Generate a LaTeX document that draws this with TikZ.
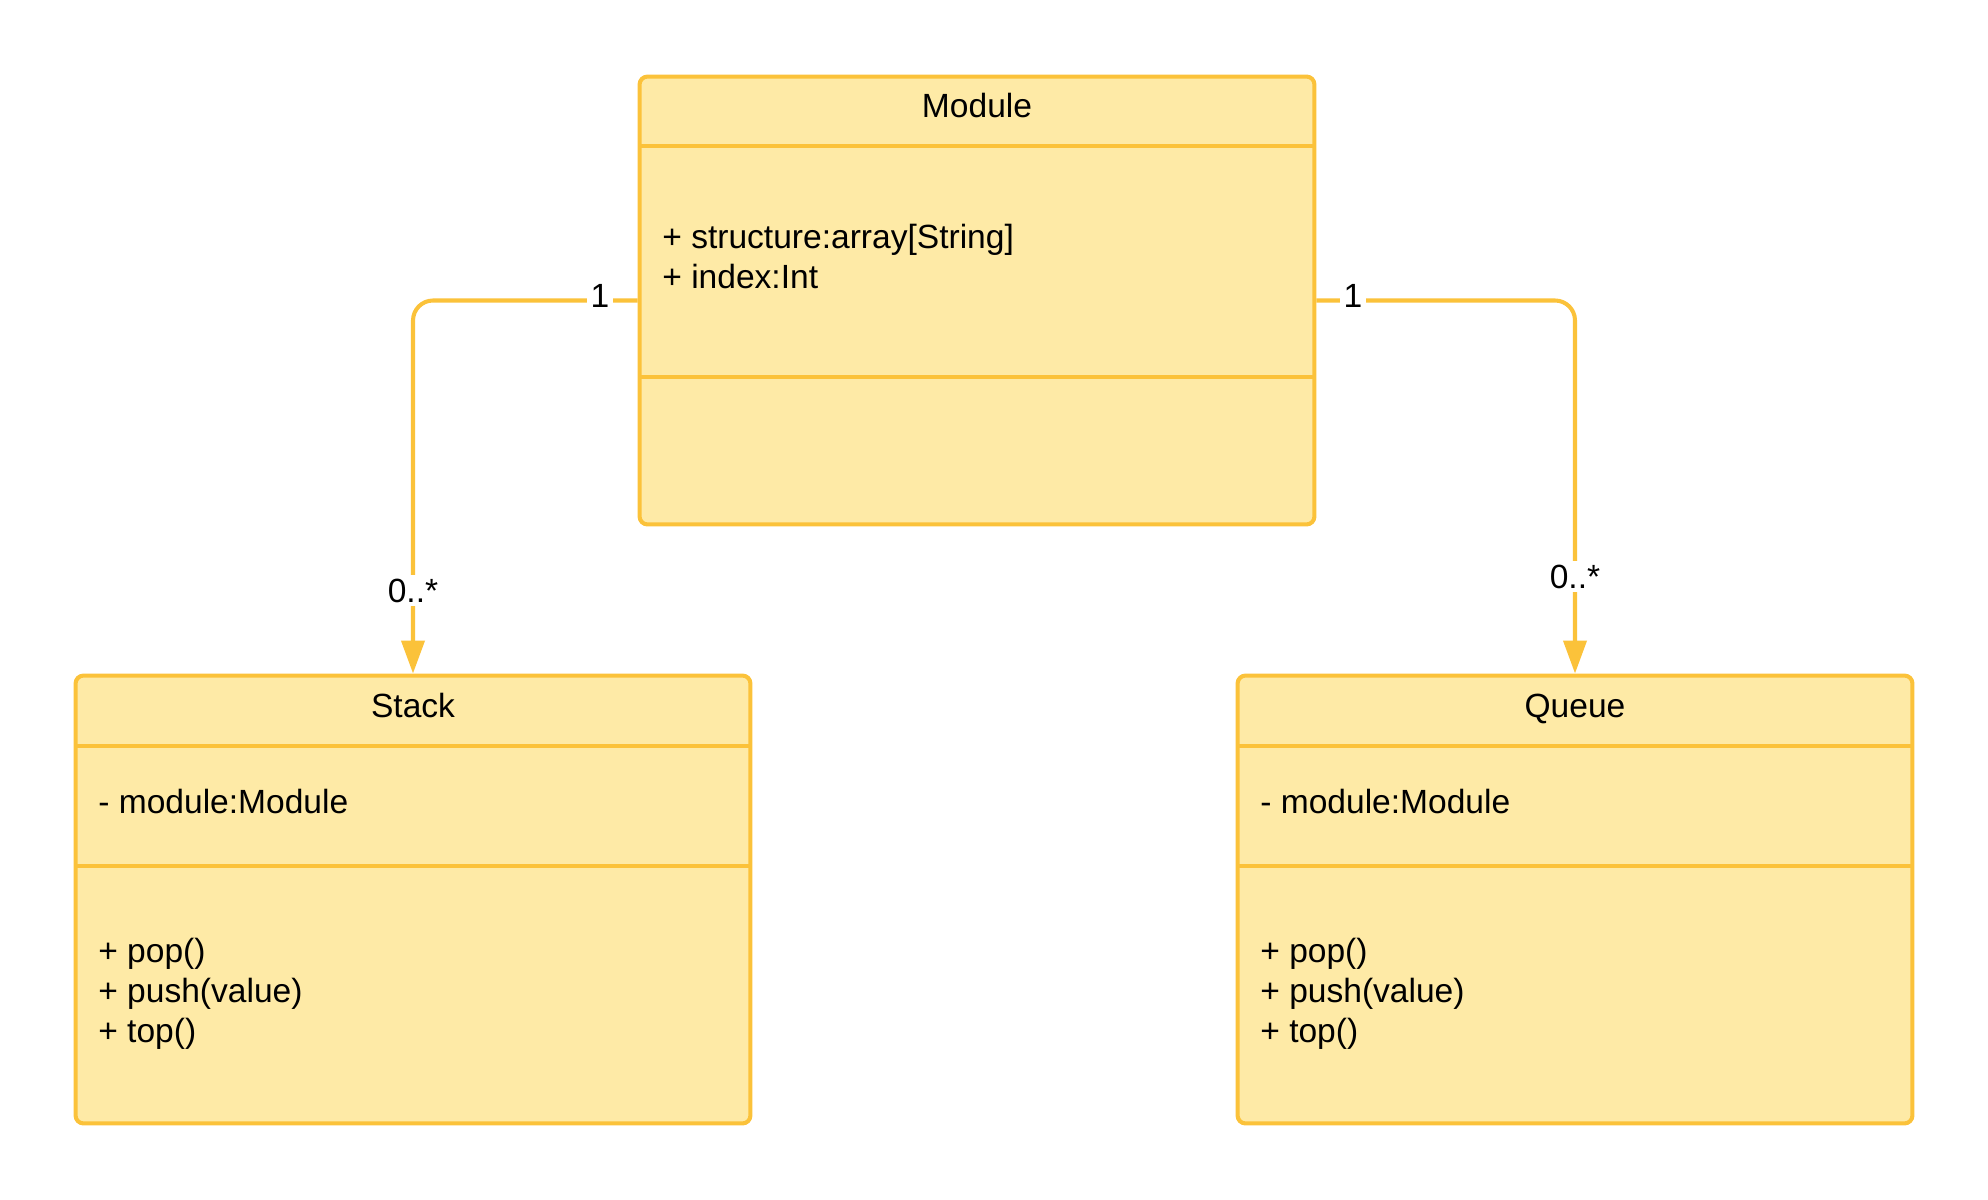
\documentclass[tikz,border=0pt]{standalone}
\usepackage{fontspec}
\setmainfont{Liberation Sans}
\usetikzlibrary{arrows.meta}
\definecolor{umlline}{RGB}{251,194,58}
\definecolor{umlfill}{RGB}{254,234,166}

\begin{document}
\begin{tikzpicture}[x=0.02cm, y=-0.02cm,
every node/.style={font=\fontsize{19.1}{22.76}\selectfont},
umlclass/.style={rectangle, rounded corners=0.16cm, draw=umlline, fill=umlfill, line width=2.3pt, minimum width=13.5cm, minimum height=8.96cm, inner sep=0pt},
divider/.style={draw=umlline, line width=2.3pt},
assoc/.style={draw=umlline, line width=2.3pt, rounded corners=0.4cm, -{Triangle[length=0.66cm, width=0.46cm]}},
mult/.style={fill=white, inner sep=2pt, anchor=base}]
\tikzstyle{member}=[anchor=base west, inner sep=0pt]
\tikzstyle{title}=[anchor=base, inner sep=0pt]
\useasboundingbox (0,0) rectangle (1988,1200);

%Module
\node[umlclass] (module) at (977,300.5) {};
\draw[divider] (640,146) -- (1314,146);
\draw[divider] (640,377) -- (1314,377);
\node[title] (moduletitle) at (977,117) {Module};
\node[member] (modulestruct) at (662,248) {+ structure:array[String]};
\node[member] (moduleindex) at (662,288) {+ index:Int};

%Stack
\node[umlclass] (stack) at (413,899.5) {};
\draw[divider] (76,746) -- (750,746);
\draw[divider] (76,866) -- (750,866);
\node[title] (stacktitle) at (413,717) {Stack};
\node[member] (stackmodule) at (98,813) {- module:Module};
\node[member] (stackpop) at (98,962) {+ pop()};
\node[member] (stackpush) at (98,1002) {+ push(value)};
\node[member] (stacktop) at (98,1042) {+ top()};

%Queue
\node[umlclass] (queue) at (1575,899.5) {};
\draw[divider] (1238,746) -- (1912,746);
\draw[divider] (1238,866) -- (1912,866);
\node[title] (queuetitle) at (1575,717) {Queue};
\node[member] (queuemodule) at (1260,813) {- module:Module};
\node[member] (queuepop) at (1260,962) {+ pop()};
\node[member] (queuepush) at (1260,1002) {+ push(value)};
\node[member] (queuetop) at (1260,1042) {+ top()};

%Associations
\draw[assoc] (module.west) -| (stack.north);
\draw[assoc] (module.east) -| (queue.north);
\node[mult] (stackone) at (600,307) {1};
\node[mult] (stackmany) at (413,602) {0..*};
\node[mult] (queueone) at (1353,307) {1};
\node[mult] (queuemany) at (1575,588) {0..*};
\end{tikzpicture}
\end{document}
